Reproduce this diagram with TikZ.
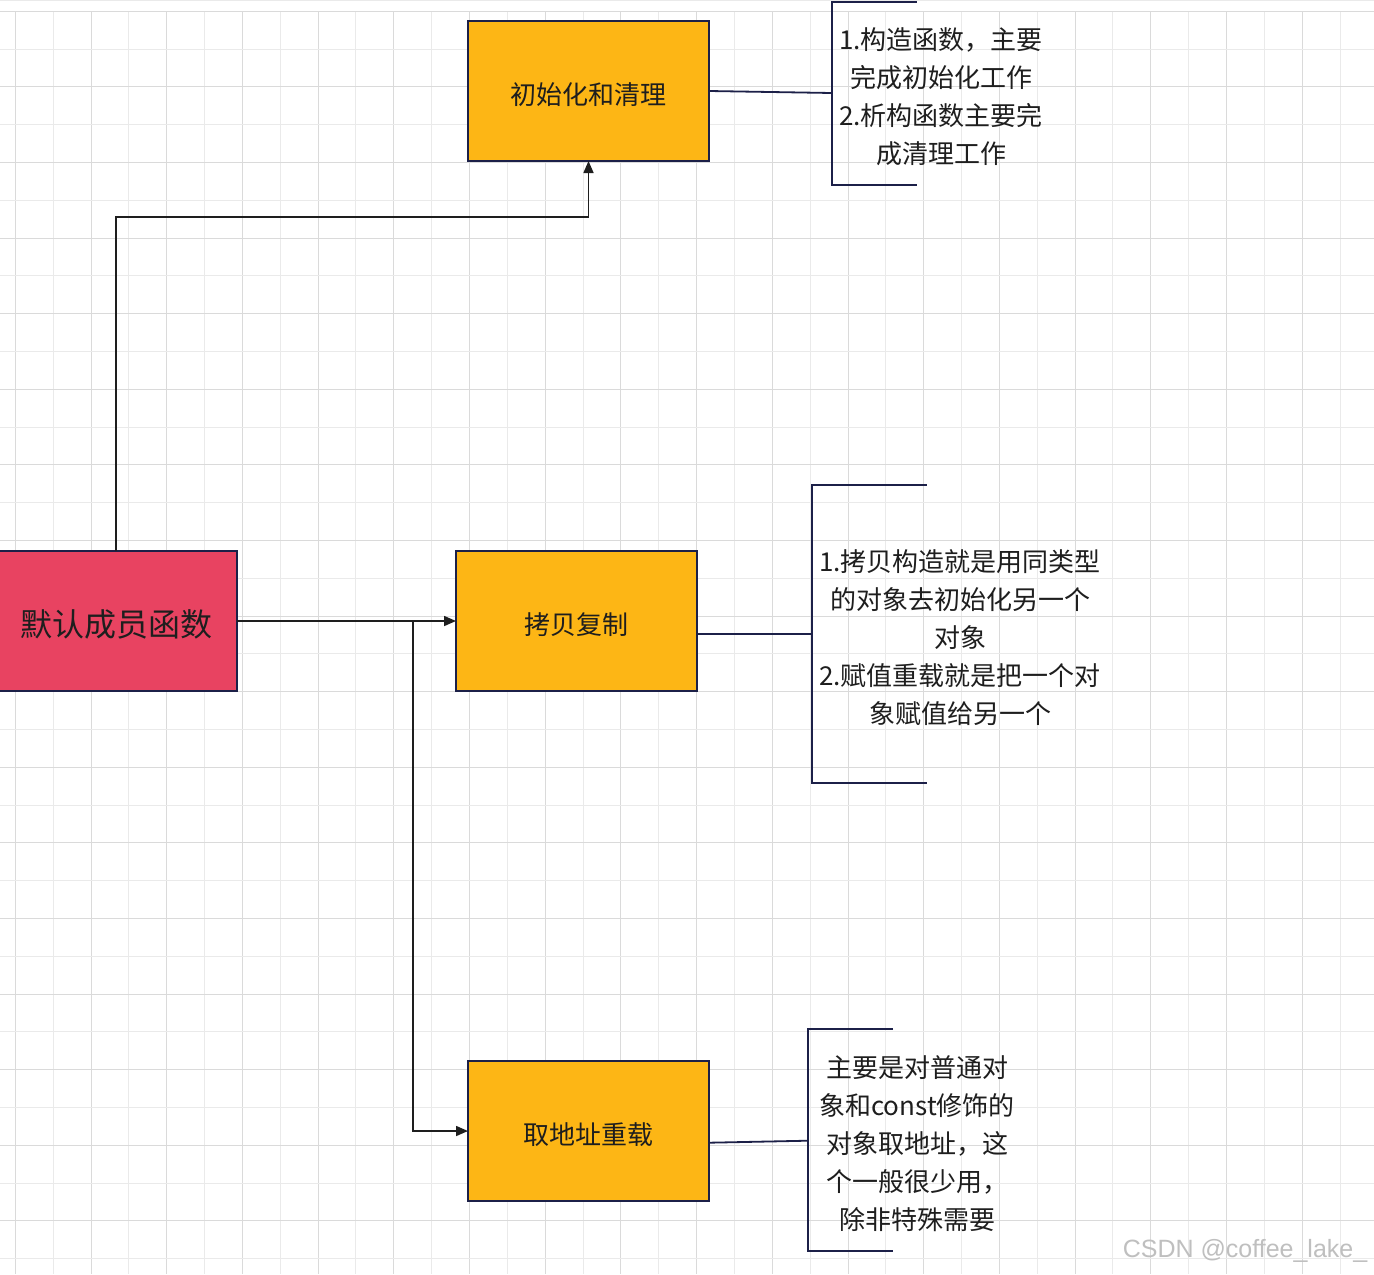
\documentclass[tikz,border=0pt]{standalone}
\usepackage{fontspec}
\setmainfont{Noto Sans CJK SC}
\newfontfamily\wmfont{Liberation Sans}
\usetikzlibrary{arrows.meta}
\definecolor{boxyellow}{RGB}{253,182,21}
\definecolor{boxred}{RGB}{232,67,97}
\definecolor{navy}{RGB}{28,32,72}
\definecolor{ink}{RGB}{30,30,30}
\definecolor{gridmaj}{RGB}{218,218,218}
\definecolor{gridmin}{RGB}{234,234,234}
\tikzset{
  box/.style={draw=navy, line width=1pt, minimum width=120.5pt, minimum height=70pt,
    inner sep=0pt, outer sep=0pt},
  boxlab/.style={text=ink, inner sep=0pt, yshift=-1.6pt, font=\fontsize{13}{16}\selectfont},
  conn/.style={draw=ink, line width=0.8pt, -{Triangle[length=6pt,width=5pt]}},
  link/.style={draw=navy, line width=0.9pt},
  bracket/.style={draw=navy, line width=1pt},
  note/.style={align=center, text=ink, inner sep=0pt, font=\fontsize{13}{19}\selectfont},
  majline/.style={draw=gridmaj, line width=0.5pt},
  minline/.style={draw=gridmin, line width=0.5pt}
}
\begin{document}
\begin{tikzpicture}[x=0.5pt,y=-0.5pt]
\useasboundingbox (0,0) rectangle (1374,1274);
\fill[white] (0,0) rectangle (1374,1274);
% grid
\draw[minline] (0,0.7) -- (1374,0.7);
\foreach \i in {0,...,35} {
  \pgfmathsetmacro\xx{15.3+37.85*\i}
  \pgfmathtruncatemacro\m{mod(\i,2)}
  \ifnum\m=0 \draw[majline] (\xx,11.3) -- (\xx,1274); \else \draw[minline] (\xx,11.3) -- (\xx,1274); \fi
}
\foreach \i in {0,...,33} {
  \pgfmathsetmacro\yy{11.3+37.8*\i}
  \pgfmathtruncatemacro\m{mod(\i,2)}
  \ifnum\m=0 \draw[majline] (0,\yy) -- (1374,\yy); \else \draw[minline] (0,\yy) -- (1374,\yy); \fi
}
% boxes
\node[box, fill=boxyellow] (init) at (588.5,91) {};
\node[box, fill=boxred] (red) at (116,621) {};
\node[box, fill=boxyellow] (copy) at (576.5,621) {};
\node[box, fill=boxyellow] (addr) at (588.5,1131) {};
\node[boxlab] (initlab) at (init.center) {初始化和清理};
\node[boxlab, font=\fontsize{16}{20}\selectfont] (redlab) at (red.center) {默认成员函数};
\node[boxlab] (copylab) at (copy.center) {拷贝复制};
\node[boxlab] (addrlab) at (addr.center) {取地址重载};
% connectors
\coordinate (turn) at (116,217);
\coordinate (split) at (412.7,621);
\draw[conn] (red.north) -- (turn) -| (init.south);
\draw[conn] (red.east) -- (copy.west);
\draw[conn] (split) |- (addr.west);
% bracket 1
\coordinate (b1t) at (916.7,1.7);
\coordinate (b1a) at (831.7,1.7);
\coordinate (b1b) at (831.7,185);
\coordinate (b1e) at (916.7,185);
\coordinate (b1m) at (831.7,93);
\draw[bracket] (b1t) -- (b1a) -- (b1b) -- (b1e);
\draw[link] (init.east) -- (b1m);
\node[note] (n1) at (941,97) {1.构造函数，主要\\完成初始化工作\\2.析构函数主要完\\成清理工作};
% bracket 2
\coordinate (b2t) at (926.7,485);
\coordinate (b2a) at (811.7,485);
\coordinate (b2b) at (811.7,783.3);
\coordinate (b2e) at (926.7,783.3);
\coordinate (b2m) at (811.7,634);
\coordinate (c2) at (697,634);
\draw[bracket] (b2t) -- (b2a) -- (b2b) -- (b2e);
\draw[link] (c2) -- (b2m);
\node[note] (n2) at (960,638) {1.拷贝构造就是用同类型\\的对象去初始化另一个\\对象\\2.赋值重载就是把一个对\\象赋值给另一个};
% bracket 3
\coordinate (b3t) at (893,1029.3);
\coordinate (b3a) at (807.5,1029.3);
\coordinate (b3b) at (807.5,1251);
\coordinate (b3e) at (893,1251);
\coordinate (b3m) at (807.5,1140.7);
\coordinate (c3) at (709,1142.7);
\draw[bracket] (b3t) -- (b3a) -- (b3b) -- (b3e);
\draw[link] (c3) -- (b3m);
\node[note] (n3) at (917,1144) {主要是对普通对\\象和const修饰的\\对象取地址，这\\个一般很少用，\\除非特殊需要};
% watermark
\node[text=black!25, font=\wmfont\fontsize{12.5}{14}\selectfont, inner sep=0pt] (wm) at (1245,1251) {CSDN @coffee\_lake\_};
\end{tikzpicture}
\end{document}
